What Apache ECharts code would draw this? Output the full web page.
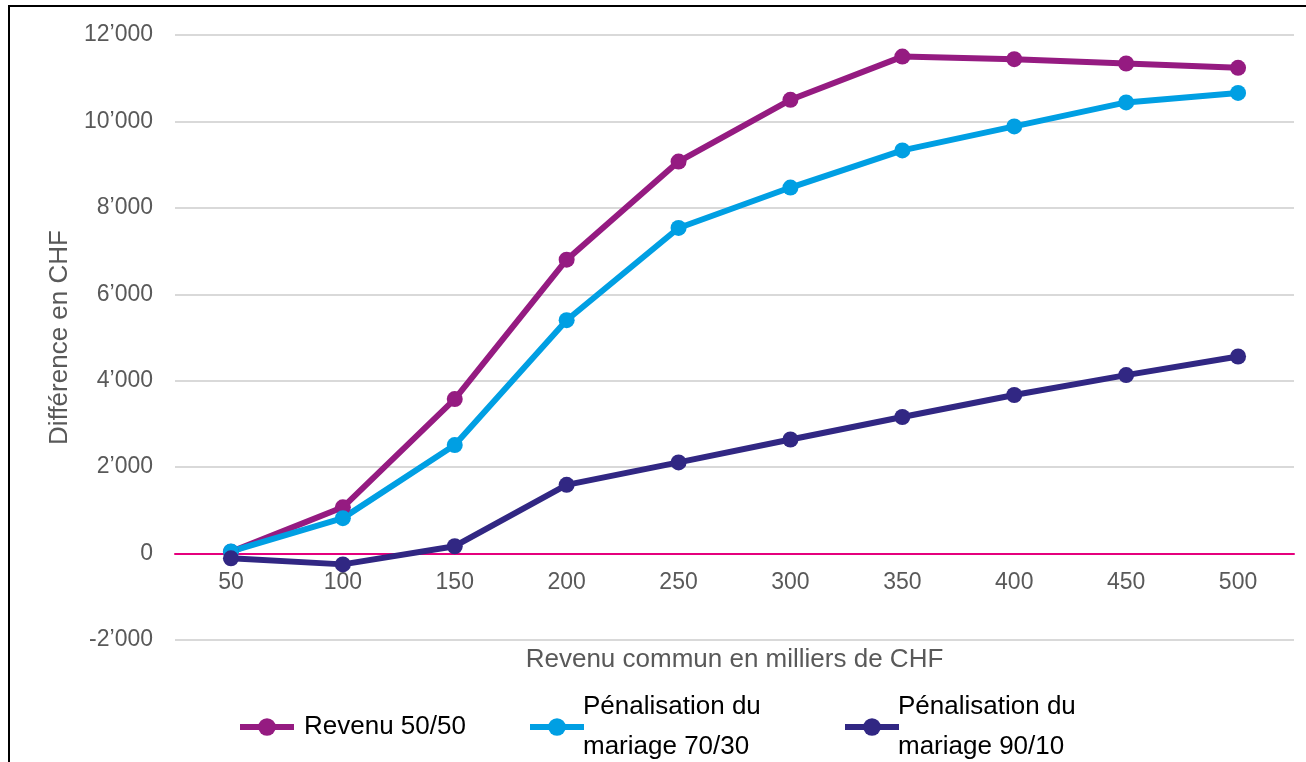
<!DOCTYPE html>
<html>
<head>
<meta charset="utf-8">
<title>Pénalisation du mariage</title>
<script src="https://cdn.jsdelivr.net/npm/echarts@6/dist/echarts.min.js"></script>
<style>
  html, body { margin: 0; padding: 0; background: #ffffff; }
  #chart { width: 1306px; height: 762px; }
</style>
</head>
<body>
<div id="chart"></div>
<script>
// Revenu commun (milliers de CHF)
const categories = ['50', '100', '150', '200', '250', '300', '350', '400', '450', '500'];

// Différence d'impôt en CHF
const revenu5050 = [40, 1070, 3575, 6800, 9070, 10500, 11500, 11440, 11340, 11240];
const penalisation7030 = [50, 820, 2510, 5400, 7535, 8470, 9330, 9885, 10440, 10660];
const penalisation9010 = [-110, -250, 170, 1590, 2110, 2640, 3160, 3670, 4130, 4560];

const seriesNames = ['Revenu 50/50', 'Pénalisation du mariage 70/30', 'Pénalisation du mariage 90/10'];
const legendLabels = ['Revenu 50/50', 'Pénalisation du\nmariage 70/30', 'Pénalisation du\nmariage 90/10'];
const colors = ['#951B81', '#009FE3', '#312783'];

const FONT = '"Liberation Sans", Arial, sans-serif';

const chart = echarts.init(document.getElementById('chart'), null, { renderer: 'canvas' });

function lineSeries(name, data, color) {
  return {
    name: name,
    type: 'line',
    data: data,
    symbol: 'circle',
    symbolSize: 16,
    lineStyle: { color: color, width: 6 },
    itemStyle: { color: color },
    emphasis: { disabled: true },
    z: 3
  };
}

function legendAt(idx, left, top) {
  return {
    data: [seriesNames[idx]],
    left: left,
    top: top,
    orient: 'horizontal',
    itemWidth: 54,
    itemHeight: 22,
    itemGap: 0,
    padding: 0,
    lineStyle: { width: 6 },
    formatter: function () { return legendLabels[idx]; },
    textStyle: { fontFamily: FONT, fontSize: 26, color: '#000000', lineHeight: 40, padding: [0, 0, 0, idx === 0 ? 5 : -6] },
    selectedMode: false
  };
}

chart.setOption({
  animation: false,
  backgroundColor: '#ffffff',
  color: colors,
  grid: { left: 175, right: 12, top: 35, bottom: 122, containLabel: false, outerBoundsMode: 'none' },
  xAxis: {
    type: 'category',
    data: categories,
    boundaryGap: true,
    name: 'Revenu commun en milliers de CHF',
    nameLocation: 'middle',
    nameGap: 7,
    nameMoveOverlap: false,
    nameTextStyle: { fontFamily: FONT, fontSize: 26, color: '#595959' },
    axisLine: { show: true, onZero: true, lineStyle: { color: '#E5007D', width: 2 } },
    axisTick: { show: false },
    axisLabel: { fontFamily: FONT, fontSize: 23, color: '#595959', margin: -69 },
    splitLine: { show: false }
  },
  yAxis: {
    type: 'value',
    min: -2000,
    max: 12000,
    interval: 2000,
    name: 'Différence en CHF',
    nameLocation: 'middle',
    nameGap: 100,
    nameTextStyle: { fontFamily: FONT, fontSize: 26, color: '#595959' },
    axisLine: { show: false },
    axisTick: { show: false },
    axisLabel: {
      fontFamily: FONT, fontSize: 23, color: '#595959', margin: 22,
      formatter: function (v) {
        const s = Math.abs(v).toString();
        const body = s.length > 3 ? s.slice(0, s.length - 3) + '\u2019' + s.slice(s.length - 3) : s;
        return (v < 0 ? '-' : '') + body;
      }
    },
    splitLine: { show: true, lineStyle: { color: '#D9D9D9', width: 2 } }
  },
  legend: [
    legendAt(0, 237, 707),
    legendAt(1, 527, 687),
    legendAt(2, 842, 687)
  ],
  graphic: [{
    type: 'rect',
    shape: { x: 9, y: 6, width: 1400, height: 900 },
    style: { fill: 'none', stroke: '#000000', lineWidth: 2 },
    silent: true,
    z: 10
  }],
  series: [
    lineSeries(seriesNames[0], revenu5050, colors[0]),
    lineSeries(seriesNames[1], penalisation7030, colors[1]),
    lineSeries(seriesNames[2], penalisation9010, colors[2])
  ]
});
</script>
</body>
</html>
